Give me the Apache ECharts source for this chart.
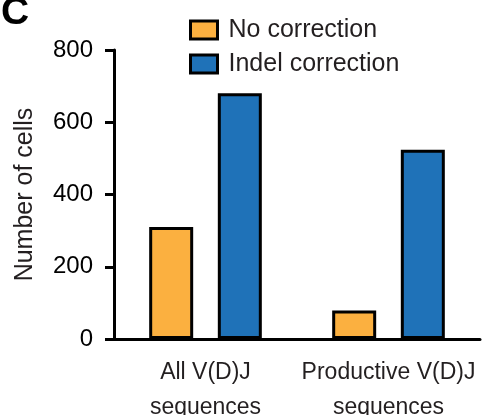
<!DOCTYPE html>
<html>
<head>
<meta charset="utf-8">
<script src="https://cdn.jsdelivr.net/npm/echarts@6/dist/echarts.min.js"></script>
<style>
  html, body { margin: 0; padding: 0; background: #ffffff; }
  #chart { width: 486px; height: 415px; }
</style>
</head>
<body>
<div id="chart"></div>
<script>
// Cell counts per V(D)J category, with and without indel correction
const categories = ['All V(D)J\nsequences', 'Productive V(D)J\nsequences'];
const noCorrection = [310, 79];
const indelCorrection = [680, 524];
const seriesNames = ['No correction', 'Indel correction'];
const yTicks = { min: 0, max: 800, interval: 200 };

const FONT = '"Liberation Sans", Arial, Helvetica, sans-serif';
const TEXT = '#231f20';
const ORANGE = '#fbb040';
const BLUE = '#1f72b8';

const chart = echarts.init(document.getElementById('chart'), null, { renderer: 'canvas' });

chart.setOption({
  animation: false,
  backgroundColor: '#ffffff',
  textStyle: { fontFamily: FONT, color: TEXT },
  graphic: [{
    type: 'text',
    left: 1,
    top: -6,
    style: { text: 'C', font: 'bold 39px ' + FONT, fill: '#000000' }
  }],
  legend: {
    orient: 'vertical',
    left: 184,
    top: 12,
    itemWidth: 27,
    itemHeight: 18,
    itemGap: 8,
    icon: 'rect',
    itemStyle: { borderColor: '#000000', borderWidth: 3 },
    textStyle: { fontFamily: FONT, fontSize: 25, color: TEXT, lineHeight: 26, padding: [0, 0, 0, 6] },
    data: seriesNames
  },
  grid: { left: 114, right: 6, top: 50, bottom: 76, containLabel: false, outerBoundsMode: 'none' },
  xAxis: {
    type: 'category',
    data: categories,
    boundaryGap: true,
    axisLine: { lineStyle: { color: '#000000', width: 3 } },
    axisTick: { alignWithLabel: true, length: 10, lineStyle: { color: '#000000', width: 3 } },
    axisLabel: { interval: 0, fontFamily: FONT, fontSize: 23, color: TEXT, lineHeight: 35, margin: 16 }
  },
  yAxis: {
    type: 'value',
    min: yTicks.min,
    max: yTicks.max,
    interval: yTicks.interval,
    name: 'Number of cells',
    nameLocation: 'middle',
    nameGap: 76,
    nameTextStyle: { fontFamily: FONT, fontSize: 25, color: TEXT },
    splitLine: { show: false },
    axisLine: { show: true, lineStyle: { color: '#000000', width: 3 } },
    axisTick: { show: true, length: 9, lineStyle: { color: '#000000', width: 3 } },
    axisLabel: { fontFamily: FONT, fontSize: 24, color: '#000000', margin: 21 }
  },
  series: [
    {
      name: seriesNames[0],
      type: 'bar',
      data: noCorrection,
      barWidth: 44,
      barGap: '56%',
      itemStyle: { color: ORANGE, borderColor: '#000000', borderWidth: 3 }
    },
    {
      name: seriesNames[1],
      type: 'bar',
      data: indelCorrection,
      barWidth: 44,
      itemStyle: { color: BLUE, borderColor: '#000000', borderWidth: 3 }
    }
  ]
});
</script>
</body>
</html>
